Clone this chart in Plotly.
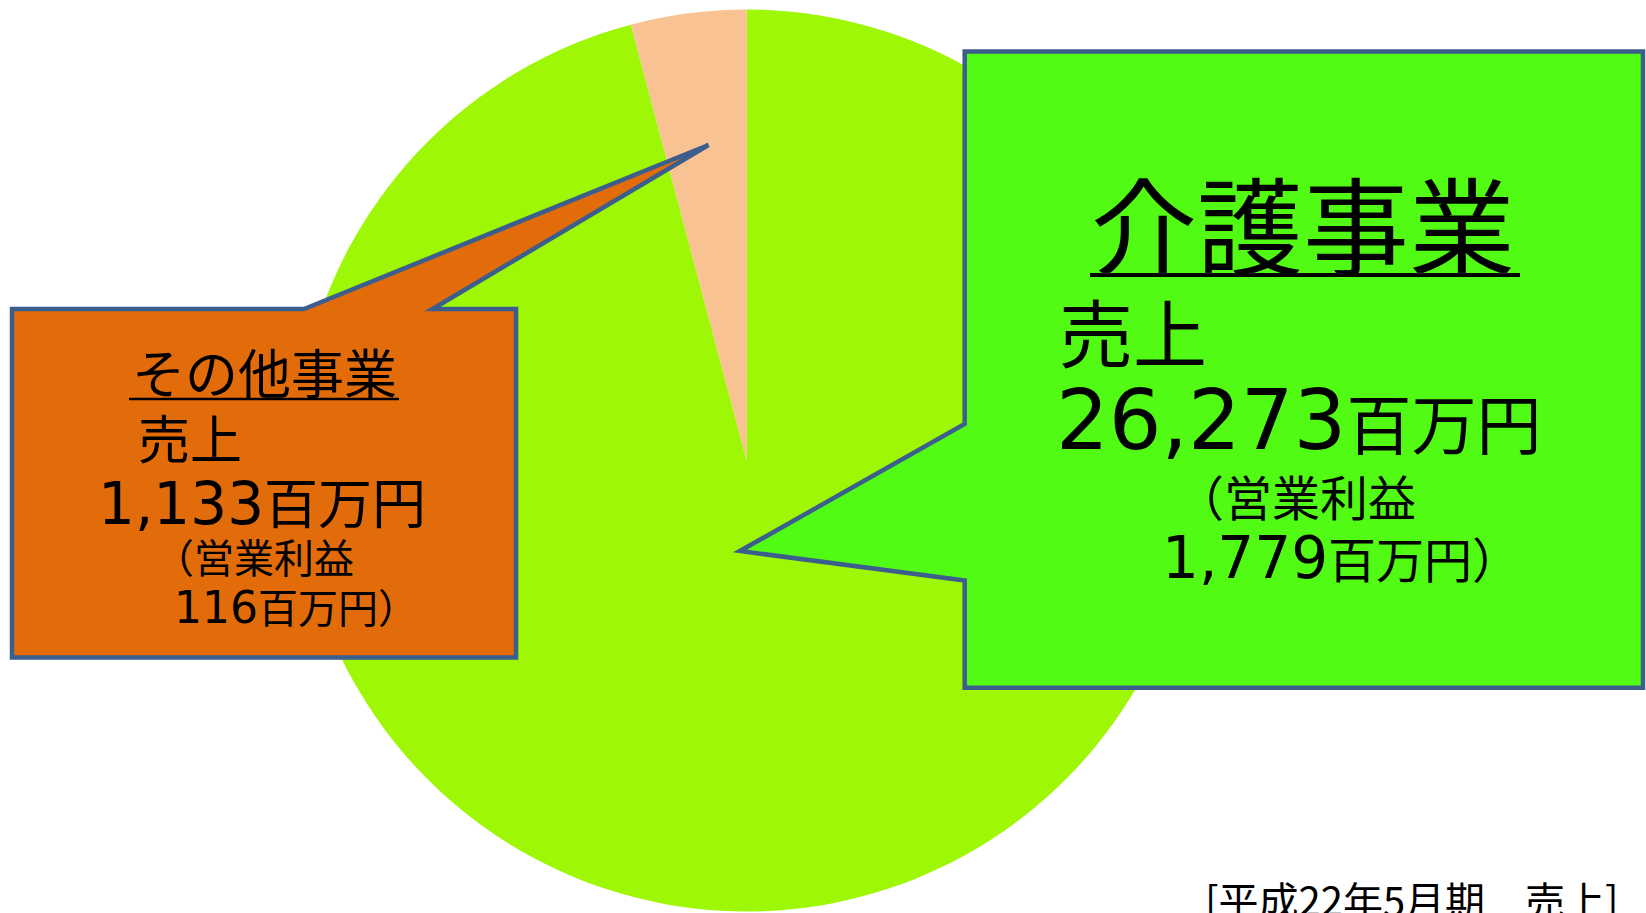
import plotly.graph_objects as go

# ---- data ----
categories = ["介護事業", "その他事業"]
sales = [26273, 1133]          # 売上（百万円）
profits = [1779, 116]          # 営業利益（百万円）
period_label = "[平成22年5月期　売上]"
slice_colors = ["#9EF705", "#F9C293"]

W, H = 1646, 913
JP = "Noto Sans CJK JP"
NUM = "DejaVu Sans"


def px(x):
    return x / W


def py(y):
    return 1 - y / H


def path(points):
    return "M " + " L ".join(f"{px(x):.5f},{py(y):.5f}" for x, y in points) + " Z"


fig = go.Figure()
fig.add_trace(go.Pie(
    labels=categories,
    values=sales,
    sort=False,
    direction="clockwise",
    rotation=0,
    marker=dict(colors=slice_colors, line=dict(width=0)),
    textinfo="none",
    hoverinfo="skip",
    showlegend=False,
    domain=dict(x=[px(295.7), px(1197.7)], y=[max(0, py(911.5)), py(9.5)]),
))

border = "#3B5E8C"
shapes = [
    # その他事業 callout
    dict(type="path", xref="paper", yref="paper",
         path=path([(12, 309), (304, 309), (708.5, 145), (432.5, 309),
                    (516, 309), (516, 657.5), (12, 657.5)]),
         fillcolor="#E36C0A", line=dict(color=border, width=4.5)),
    # 介護事業 callout
    dict(type="path", xref="paper", yref="paper",
         path=path([(964.7, 51.4), (1643, 51.4), (1643, 687.7), (964.7, 687.7),
                    (964.7, 580.5), (740, 551), (964.7, 424)]),
         fillcolor="#52FB14", line=dict(color=border, width=4.5)),
    # underlines
    dict(type="line", xref="paper", yref="paper",
         x0=px(1090), x1=px(1520), y0=py(275), y1=py(275),
         line=dict(color="black", width=4)),
    dict(type="line", xref="paper", yref="paper",
         x0=px(129), x1=px(399), y0=py(399), y1=py(399),
         line=dict(color="black", width=2.5)),
]


def num(v, size):
    return f'<span style="font-family:{NUM};font-size:{size}px">{v:,}</span>'


ann = []


def add(text, x, y, size, anchor="left"):
    ann.append(dict(text=text, x=px(x), y=py(y), xref="paper", yref="paper",
                    xanchor=anchor, yanchor="middle", showarrow=False,
                    font=dict(family=JP, size=size, color="black")))


# その他事業 box
add(categories[1], 264, 371, 53, "center")
add("売上", 136, 436, 52)
add(num(sales[1], 58) + "百万円", 96, 500, 54)
add("（営業利益", 152, 556, 40)
add(num(profits[1], 44) + "百万円）", 172, 606, 40)

# 介護事業 box
add(categories[0], 1303, 221, 106, "center")
add("売上", 1057, 329, 74)
add(num(sales[0], 83) + "百万円", 1054, 420, 65)
add("（営業利益", 1174, 495, 48)
add(num(profits[0], 58) + "百万円）", 1160, 557, 48)

# period label
add(period_label, 1203, 899, 40)

fig.update_layout(
    width=W, height=H, autosize=False,
    margin=dict(l=0, r=0, t=0, b=0),
    paper_bgcolor="white", plot_bgcolor="white",
    shapes=shapes, annotations=ann,
)

fig.write_html(
    "out.html",
    config={"displayModeBar": False},
    post_script="document.body.style.margin='0';"
                "document.body.style.overflow='hidden';"
                "document.documentElement.style.overflow='hidden';",
)
